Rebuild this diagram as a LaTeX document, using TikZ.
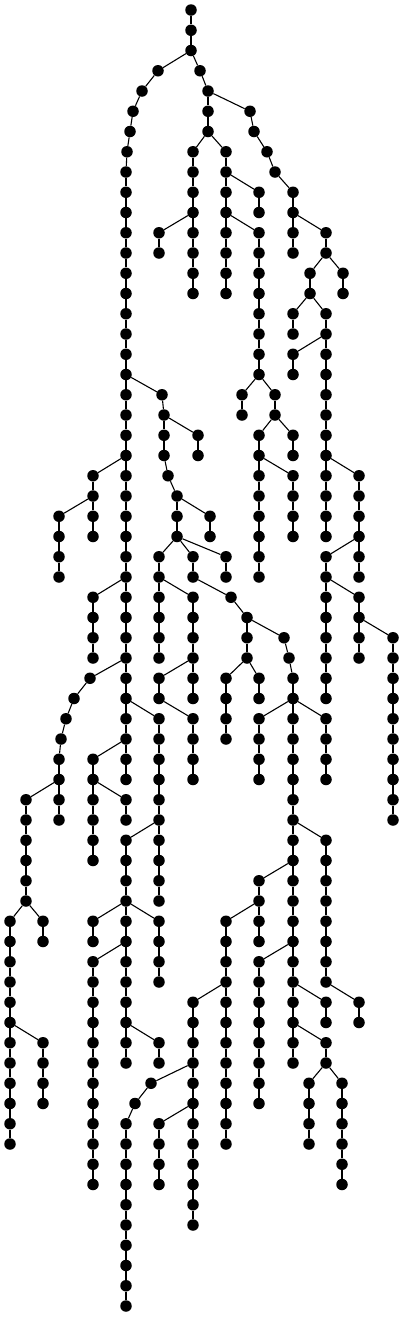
\documentclass[tikz,border=0pt]{standalone}
\usepackage{tikz}

\tikzset{
  vtx/.style={circle, fill=black, inner sep=0pt, minimum size=11.5pt},
  link/.style={line width=1.1pt, black},
}

% vertical runs: column x / first row / last row
\newcommand{\treechains}{%
  191/0/2, 158/3/3, 142/4/4, 133/5/5, 130/6/6, 127/7/7, 126/8/38,%
  162/19/19, 164/20/22, 198/21/22, 168/23/23, 177/24/26, 210/25/26,%
  159/27/32, 193/27/28, 226/27/28, 193/29/34, 231/29/29, 247/30/32, 284/31/31, 289/32/32,%
  293/33/52, 226/33/36, 259/33/34, 159/33/34, 193/35/38, 259/35/38, 326/35/38,%
  326/41/48, 359/49/50, 326/49/50, 326/51/52, 309/53/56, 342/53/58,%
  259/43/46, 226/45/56, 259/47/54, 193/49/60, 151/53/53, 135/54/54, 126/55/64, 159/55/58,%
  93/23/26, 59/25/28, 93/29/32, 90/33/33, 74/34/34, 66/35/35, 61/36/36, 59/37/40,%
  26/39/44, 10/45/56, 43/45/46, 43/51/54,%
  159/35/44, 126/41/52, 93/45/46, 159/45/48, 93/47/58, 159/51/52, 93/37/42, 126/39/40,%
  200/3/3, 208/4/6, 250/5/5, 254/6/6, 267/7/7, 275/8/8, 293/9/12, 326/11/12, 310/13/14, 343/13/14,%
  293/15/16, 326/15/26, 293/17/18, 359/23/28, 326/27/34, 359/29/32, 393/31/40,%
  193/7/14, 159/11/12, 226/7/14, 259/9/10, 259/11/18, 242/19/20, 275/19/20, 293/21/22, 259/21/28, 293/23/26%
}

% branch links: parent / child
\newcommand{\treelinks}{%
  2-191/3-158, 3-158/4-142, 4-142/5-133, 5-133/6-130, 6-130/7-127, 7-127/8-126,%
  18-126/19-162, 19-162/20-164, 20-164/21-198, 22-164/23-168, 23-168/24-177, 24-177/25-210,%
  26-177/27-159, 26-177/27-193, 26-177/27-226, 28-159/29-193, 28-193/29-231, 29-231/30-247,%
  30-247/31-284, 31-284/32-289, 32-289/33-293,%
  32-247/33-226, 32-247/33-259, 32-193/33-159, 34-159/35-193, 34-293/35-259, 34-293/35-326,%
  40-293/41-326, 48-326/49-359, 48-293/49-326, 50-293/51-326, 52-326/53-309, 52-326/53-342,%
  42-293/43-259, 44-259/45-226, 46-293/47-259, 48-226/49-193, 52-193/53-151, 53-151/54-135,%
  54-135/55-126, 54-193/55-159,%
  22-126/23-93, 24-93/25-59, 28-126/29-93, 32-126/33-90, 33-90/34-74, 34-74/35-66, 35-66/36-61, 36-61/37-59,%
  38-59/39-26, 44-26/45-10, 44-26/45-43, 50-10/51-43,%
  34-126/35-159, 40-159/41-126, 44-126/45-93, 44-126/45-159, 46-126/47-93, 50-126/51-159,%
  36-126/37-93, 38-93/39-126,%
  2-191/3-200, 3-200/4-208, 4-208/5-250, 5-250/6-254, 6-254/7-267, 7-267/8-275, 8-275/9-293,%
  10-293/11-326, 12-326/13-310, 12-326/13-343,%
  14-310/15-293, 14-310/15-326, 16-326/17-293, 22-326/23-359, 26-359/27-326, 28-326/29-359, 30-359/31-393,%
  6-208/7-193, 10-193/11-159, 6-208/7-226, 8-226/9-259, 10-226/11-259, 18-259/19-242, 18-259/19-275,%
  20-275/21-293, 20-275/21-259, 22-259/23-293%
}

\begin{document}
\begin{tikzpicture}[x=1pt, y=-20.25pt]
  \useasboundingbox (0,-0.494) rectangle (403,64.543);

  % runs of nodes
  \foreach \x/\a/\b in \treechains {
    \foreach \r in {\a,...,\b} {
      \node[vtx] (n\r-\x) at (\x,\r) {};
      \ifnum\r>\a
        \pgfmathtruncatemacro{\p}{\r-1}
        \draw[link] (n\p-\x) -- (n\r-\x);
      \fi
    }
  }

  % branches
  \foreach \s/\t in \treelinks
    \draw[link] (n\s) -- (n\t);
\end{tikzpicture}
\end{document}
